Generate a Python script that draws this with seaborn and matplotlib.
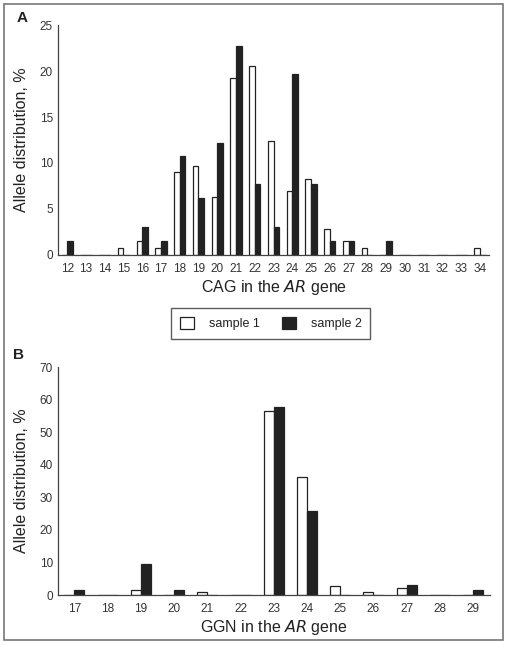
import numpy as np
import pandas as pd
import seaborn as sns
from matplotlib import pyplot as plt
from matplotlib.patches import Patch, Rectangle

# CAG repeats (panel A)
cagRepeats = list(range(12, 35))
cagSample1 = [0, 0, 0, 0.7, 1.5, 0.7, 9.0, 9.7, 6.3, 19.2, 20.5, 12.4, 6.9,
              8.3, 2.8, 1.5, 0.7, 0, 0, 0, 0, 0, 0.7]
cagSample2 = [1.5, 0, 0, 0, 3.0, 1.5, 10.7, 6.2, 12.2, 22.7, 7.7, 3.0, 19.7,
              7.7, 1.5, 1.5, 0, 1.5, 0, 0, 0, 0, 0]

# GGN repeats (panel B)
ggnRepeats = list(range(17, 30))
ggnSample1 = [0, 0, 1.5, 0, 0.8, 0, 56.5, 36.3, 2.8, 0.8, 2.2, 0, 0]
ggnSample2 = [1.6, 0, 9.4, 1.6, 0, 0, 57.8, 25.9, 0, 0, 3.2, 0, 1.6]

sampleNames = ['sample 1', 'sample 2']


def toLong(repeats, s1, s2):
    df = pd.DataFrame({'repeat': [str(r) for r in repeats] * 2,
                       'value': s1 + s2,
                       'sample': [sampleNames[0]] * len(repeats) + [sampleNames[1]] * len(repeats)})
    return df


sns.set_style('white')
plt.rcParams['font.family'] = ['Liberation Sans', 'DejaVu Sans']
plt.rcParams['text.color'] = '#222222'
plt.rcParams['axes.labelcolor'] = '#222222'
plt.rcParams['xtick.color'] = '#333333'
plt.rcParams['ytick.color'] = '#333333'

fig = plt.figure(figsize=(5.07, 6.45), dpi=100)
axA = fig.add_axes([0.114, 0.605, 0.851, 0.356])
axB = fig.add_axes([0.114, 0.0775, 0.852, 0.3535])

palette = {'sample 1': 'white', 'sample 2': '#222222'}


def drawPanel(ax, repeats, s1, s2, ymax, ystep, xlabel):
    df = toLong(repeats, s1, s2)
    sns.barplot(data=df, x='repeat', y='value', hue='sample', palette=palette,
                width=0.6, edgecolor='#222222', linewidth=0.9, ax=ax, legend=False)
    n = len(repeats)
    ax.set_xlim(-0.5, n - 0.5)
    ax.set_ylim(0, ymax)
    ax.set_yticks(np.arange(0, ymax + 1, ystep))
    ax.set_xticks(np.arange(-0.5, n, 1), minor=True)
    ax.tick_params(axis='x', which='major', length=0, labelsize=8.5, pad=6)
    ax.tick_params(axis='x', which='minor', length=3, width=0.8, color='#444444')
    ax.tick_params(axis='y', length=2.5, width=0.8, labelsize=8.5, pad=1, color='#444444')
    sns.despine(ax=ax)
    for side in ['left', 'bottom']:
        ax.spines[side].set_color('#444444')
        ax.spines[side].set_linewidth(0.9)
    ax.set_ylabel('Allele distribution, %', fontsize=11.5, labelpad=8)
    ax.set_xlabel(xlabel, fontsize=11.5, labelpad=2)


drawPanel(axA, cagRepeats, cagSample1, cagSample2, 25, 5, 'CAG in the $\\it{AR}$ gene')
drawPanel(axB, ggnRepeats, ggnSample1, ggnSample2, 70, 10, 'GGN in the $\\it{AR}$ gene')

# Panel letters
fig.text(17 / 507, 1 - 18 / 645, 'A', fontsize=11, fontweight='bold', va='center')
fig.text(13 / 507, 1 - 355 / 645, 'B', fontsize=11, fontweight='bold', va='center')

# Shared legend between panels
handles = [Patch(facecolor='white', edgecolor='#222222', linewidth=0.9),
           Patch(facecolor='#222222', edgecolor='#222222', linewidth=0.9)]
leg = fig.legend(handles, sampleNames, loc='center', bbox_to_anchor=(0.534, 0.499),
                 ncol=2, fontsize=9, frameon=True, fancybox=False, edgecolor='#333333',
                 handlelength=1.1, handleheight=1.1, columnspacing=1.8, handletextpad=1.2,
                 borderpad=0.7)
leg.get_frame().set_linewidth(1.0)

# Outer frame
fig.patches.append(Rectangle((4 / 507, 5 / 645), 499 / 507, 636 / 645, transform=fig.transFigure,
                             fill=False, edgecolor='#777777', linewidth=1.2))

plt.savefig('out.png', dpi=100)
